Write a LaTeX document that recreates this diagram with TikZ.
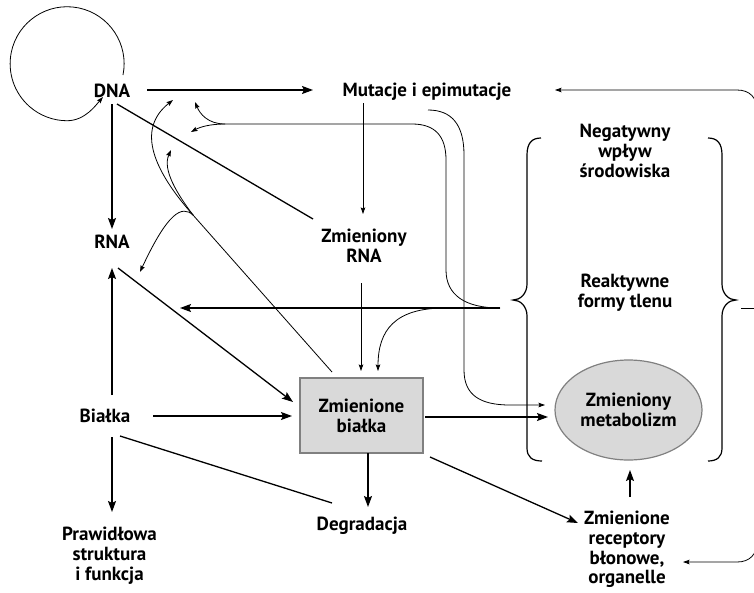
\documentclass[tikz,border=0pt]{standalone}
\usepackage{fontspec}
\setmainfont{PT Sans}
\usetikzlibrary{arrows.meta,shapes.geometric,calc}
\begin{document}
\begin{tikzpicture}[x=1pt,y=-1pt,
  lbl/.style={font=\bfseries\fontsize{19}{19.8}\selectfont, align=center, inner sep=0pt},
  thickarr/.style={line width=1.3pt, -{Stealth[length=11pt,width=8pt,inset=2pt]}},
  thinarr/.style={line width=0.8pt, -{Stealth[length=6.5pt,width=4.5pt,inset=1pt]}},
  thickln/.style={line width=1.3pt},
  thinln/.style={line width=0.8pt},
  bracestyle/.style={line width=1.2pt},
  grayshape/.style={draw=gray, fill=gray!30, line width=1.2pt}
]
\useasboundingbox (0,0) rectangle (754,592);

% nodes
\node[lbl] (dna) at (112,90.5) {DNA};
\node[lbl] (mut) at (427,91.5) {Mutacje i epimutacje};
\node[lbl] (neg) at (625,151) {Negatywny\\wpływ\\środowiska};
\node[lbl] (rft) at (625,293) {Reaktywne\\formy tlenu};
\node[lbl] (zrna) at (364,246) {Zmieniony\\RNA};
\node[lbl] (rna) at (112,241.7) {RNA};
\node[lbl] (bia) at (105,415.5) {Białka};
\node[lbl, grayshape, minimum width=123pt, minimum height=75pt] (zb) at (361.5,415.5) {Zmienione\\białka};
\node[lbl, grayshape, ellipse, minimum width=147pt, minimum height=100pt] (zm) at (628.5,410) {Zmieniony\\metabolizm};
\node[lbl] (deg) at (362,525.4) {Degradacja};
\node[lbl] (pra) at (109.5,556) {Prawidłowa\\struktura\\i funkcja};
\node[lbl] (zrec) at (627,549.4) {Zmienione\\receptory\\błonowe,\\organelle};

% DNA self loop
\draw[thinarr] ($(dna)+(11,-15.5)$) arc[start angle=11.4, end angle=-270, radius=57]
  .. controls (85,120.7) and (96,105) .. ($(dna)+(-9,6.5)$);

% main connectors
\draw[thickarr] ($(dna)+(35,-0.5)$) -- ($(mut)+(-114,-1.5)$);
\draw[thickarr] ($(dna)+(0,13.5)$) -- ($(rna)+(0,-12.7)$);
\draw[thickln] ($(dna)+(5,13.5)$) -- ($(zrna)+(-51,-27)$);
\draw[thinarr] ($(mut)+(-64,11.5)$) -- ($(zrna)+(-1,-32)$);
\draw[thinarr] ($(zrna)+(-3,37)$) -- ($(zb)+(-0.5,-44.5)$);

% reactive oxygen species
\coordinate (rfo) at ($(rft)+(-125,15)$);
\draw[thickarr] (rfo) -- ($(rna)+(68,66.3)$);
\draw[thinarr] ($(rft)+(-180,15)$) .. controls (395,308) and (378,330) .. ($(zb)+(16.5,-44.5)$);
\draw[thinln] (rfo) .. controls (465,308) and (446,295) .. (446,270) -- (446,160)
  .. controls (446,136) and (435,124) .. (412,124) -- (225,124) coordinate (asplit);
\draw[thinarr] (asplit) .. controls (208,124) and (200,114) .. ($(dna)+(83,11.5)$);
\draw[thinarr] (asplit) .. controls (210,124) and (200,127) .. ($(dna)+(79,41.5)$);

% mutations -> metabolism
\draw[thinarr] ($(mut)+(1,18.5)$) .. controls (452,110) and (464,125) .. (464,155) -- (464,370)
  .. controls (464,395) and (480,405) .. (510,405) -- ($(zm)+(-83.5,-5)$);

% altered proteins feedback
\draw[thinln] ($(zb)+(-29.5,-43.5)$) -- (193,215) coordinate (bsplit);
\draw[thinarr] (bsplit) .. controls (155,172) and (135,130) .. ($(dna)+(61,9.5)$);
\draw[thinarr] (bsplit) .. controls (178,195) and (162,170) .. ($(dna)+(59,59.5)$);
\draw[thinarr] (bsplit) .. controls (182,205) and (168,212) .. ($(rna)+(28,30.3)$);

% protein connectors
\draw[thickarr] ($(rna)+(6,26.3)$) -- ($(zb)+(-68.5,-13.5)$);
\draw[thickarr] ($(bia)+(7,-20.5)$) -- ($(rna)+(0,26.3)$);
\draw[thickarr] ($(bia)+(48,0.5)$) -- ($(zb)+(-69.5,0.5)$);
\draw[thickarr] ($(bia)+(7,21.5)$) -- ($(pra)+(2.5,-44)$);
\draw[thickln] ($(bia)+(15,20.5)$) -- ($(deg)+(-30,-22.4)$);
\draw[thickarr] ($(zb)+(6.5,37.5)$) -- ($(deg)+(6,-18.4)$);
\draw[thickarr] ($(zb)+(63.5,1.5)$) -- ($(zm)+(-80.5,7)$);
\draw[thickarr] ($(zb)+(68.5,41.5)$) -- ($(zrec)+(-49,-26.4)$);
\draw[thickarr] ($(zrec)+(3,-52.4)$) -- ($(zm)+(1.5,60)$);

% braces
\draw[bracestyle] (541,138) .. controls (532,138) and (527,143) .. (527,155) -- (527,284)
  .. controls (527,294) and (520,300) .. (513,300) .. controls (520,300) and (527,306) .. (527,316)
  -- (527,448) .. controls (527,457) and (532,461) .. (542,461);
\draw[bracestyle] (708,138) .. controls (717,138) and (722,143) .. (722,155) -- (722,284)
  .. controls (722,294) and (729,300) .. (736,300) .. controls (729,300) and (722,306) .. (722,316)
  -- (722,448) .. controls (722,457) and (717,461) .. (708,461);

% right feedback loop
\draw[thinln] ($(rft)+(116,15)$) -- (757,308);
\draw[thinarr] (757,308) -- (757,110) .. controls (757,98) and (750,90) .. (737,90) -- ($(mut)+(128,-1.5)$);
\draw[thinarr] (757,308) -- (757,542) .. controls (757,554) and (750,562) .. (737,562) -- ($(zrec)+(56,12.6)$);
\end{tikzpicture}
\end{document}
